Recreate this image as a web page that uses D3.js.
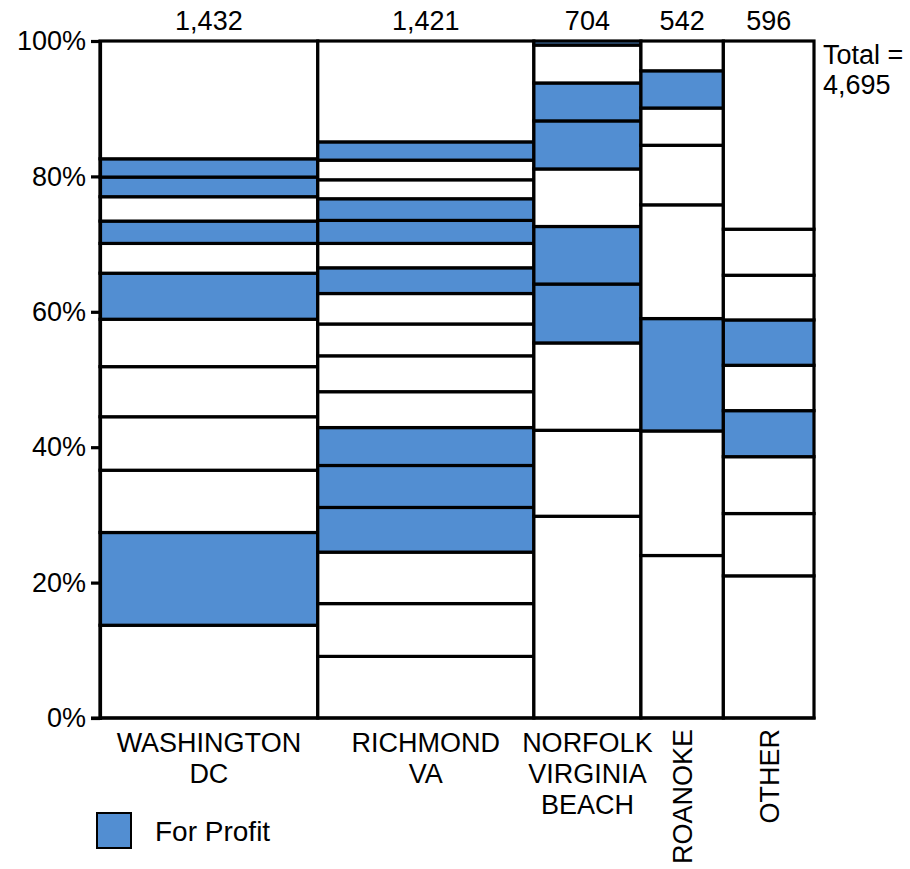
<!DOCTYPE html>
<html>
<head>
<meta charset="utf-8">
<script src="https://cdn.jsdelivr.net/npm/d3@7"></script>
<style>
  body { margin: 0; background: #fff; }
  text { font-family: "Liberation Sans", Arial, sans-serif; fill: #000; }
</style>
</head>
<body>
<svg id="chart" width="910" height="869"></svg>
<script>
// ---- data ----
const categories = ["Washington DC", "Richmond VA", "Norfolk Virginia Beach", "Roanoke", "Other"];
const categoryLabelLines = [["WASHINGTON", "DC"], ["RICHMOND", "VA"], ["NORFOLK", "VIRGINIA", "BEACH"], ["ROANOKE"], ["OTHER"]];
const categoryLabelRotated = [false, false, false, true, true];
const counts = [1432, 1421, 704, 542, 596];
const totalLabel = ["Total =", "4,695"];

// segment shares (% of each column, bottom to top) and for-profit flags
const washingtonShares = [13.7, 13.7, 9.2, 7.9, 7.4, 7.0, 6.8, 4.4, 3.3, 3.6, 2.9, 2.7, 17.4];
const washingtonProfit = [0, 1, 0, 0, 0, 0, 1, 0, 1, 0, 1, 1, 0];
const richmondShares = [9.1, 7.8, 7.6, 6.6, 6.2, 5.6, 5.3, 5.3, 4.7, 4.5, 3.8, 3.6, 3.4, 3.2, 2.8, 2.9, 2.7, 14.9];
const richmondProfit = [0, 0, 0, 1, 1, 1, 0, 0, 0, 0, 1, 0, 1, 1, 0, 0, 1, 0];
const norfolkShares = [29.8, 12.7, 12.9, 8.7, 8.5, 8.5, 7.1, 5.6, 5.6, 0.6];
const norfolkProfit = [0, 0, 0, 1, 1, 0, 1, 1, 0, 1];
const roanokeShares = [24.0, 18.4, 16.6, 16.8, 8.8, 5.5, 5.5, 4.4];
const roanokeProfit = [0, 0, 1, 0, 0, 0, 1, 0];
const otherShares = [21.0, 9.2, 8.4, 6.8, 6.7, 6.7, 6.6, 6.8, 27.8];
const otherProfit = [0, 0, 0, 1, 0, 1, 0, 0, 0];

const yTicks = [0, 20, 40, 60, 80, 100];
const legendLabel = "For Profit";

const allShares = [washingtonShares, richmondShares, norfolkShares, roanokeShares, otherShares];
const allProfit = [washingtonProfit, richmondProfit, norfolkProfit, roanokeProfit, otherProfit];

// ---- layout ----
const BLUE = "#528ED2";
const FONT = 27;
const margin = { left: 100, right: 96, top: 41, bottom: 151 };
const W = 910, H = 869;
const svg = d3.select("#chart");

const total = d3.sum(counts);
const x = d3.scaleLinear().domain([0, total]).range([margin.left, W - margin.right]);
const y = d3.scaleLinear().domain([0, 100]).range([H - margin.bottom, margin.top]);

const starts = [];
counts.reduce((acc, c, i) => { starts[i] = acc; return acc + c; }, 0);

// columns
const cols = counts.map((c, i) => {
  let cum = 0;
  const segs = allShares[i].map((s, j) => {
    const seg = { y0: cum, y1: cum + s, profit: allProfit[i][j] };
    cum += s;
    return seg;
  });
  return { i, x0: starts[i], x1: starts[i] + c, segs };
});

const gCols = svg.append("g");
cols.forEach(col => {
  gCols.append("g").selectAll("rect")
    .data(col.segs)
    .join("rect")
    .attr("x", x(col.x0))
    .attr("width", x(col.x1) - x(col.x0))
    .attr("y", d => y(d.y1))
    .attr("height", d => y(d.y0) - y(d.y1))
    .attr("fill", d => d.profit ? BLUE : "#fff")
    .attr("stroke", "#000")
    .attr("stroke-width", 3.2);
});

// y axis
const yAxis = d3.axisLeft(y)
  .tickValues(yTicks)
  .tickFormat(d => d + "%")
  .tickSize(9)
  .tickPadding(5);
const gy = svg.append("g").attr("transform", `translate(${margin.left},0)`).call(yAxis);
gy.select(".domain").attr("stroke-width", 3.2).attr("stroke", "#000");
gy.selectAll(".tick line").attr("stroke-width", 3.2).attr("stroke", "#000");
gy.selectAll(".tick text").attr("font-size", FONT).attr("font-family", "Liberation Sans, Arial, sans-serif").attr("fill", "#000");

// baseline
svg.append("line")
  .attr("x1", margin.left - 9).attr("x2", x(total) + 1.6)
  .attr("y1", y(0)).attr("y2", y(0))
  .attr("stroke", "#000").attr("stroke-width", 3.2);

// counts on top
svg.append("g").selectAll("text")
  .data(cols)
  .join("text")
  .attr("x", d => (x(d.x0) + x(d.x1)) / 2)
  .attr("y", 30)
  .attr("text-anchor", "middle")
  .attr("font-size", FONT)
  .text(d => d3.format(",")(counts[d.i]));

// total
svg.append("text")
  .attr("x", x(total) + 9)
  .attr("y", 64)
  .attr("font-size", FONT)
  .selectAll("tspan")
  .data(totalLabel)
  .join("tspan")
  .attr("x", x(total) + 9)
  .attr("dy", (d, i) => i === 0 ? 0 : 30)
  .text(d => d);

// category labels
cols.forEach(col => {
  const cx = (x(col.x0) + x(col.x1)) / 2;
  const lines = categoryLabelLines[col.i];
  if (categoryLabelRotated[col.i]) {
    svg.append("text")
      .attr("transform", `translate(${cx + 10},${y(0) + 11}) rotate(-90)`)
      .attr("text-anchor", "end")
      .attr("font-size", FONT)
      .text(lines[0]);
  } else {
    const t = svg.append("text")
      .attr("text-anchor", "middle")
      .attr("font-size", FONT);
    t.selectAll("tspan").data(lines).join("tspan")
      .attr("x", cx)
      .attr("y", (d, i) => y(0) + 34 + i * 31)
      .text(d => d);
  }
});

// legend
svg.append("rect")
  .attr("x", 97).attr("y", 813)
  .attr("width", 34).attr("height", 35)
  .attr("fill", BLUE).attr("stroke", "#000").attr("stroke-width", 2);
svg.append("text")
  .attr("x", 155).attr("y", 841)
  .attr("font-size", 28)
  .text(legendLabel);
</script>
</body>
</html>
